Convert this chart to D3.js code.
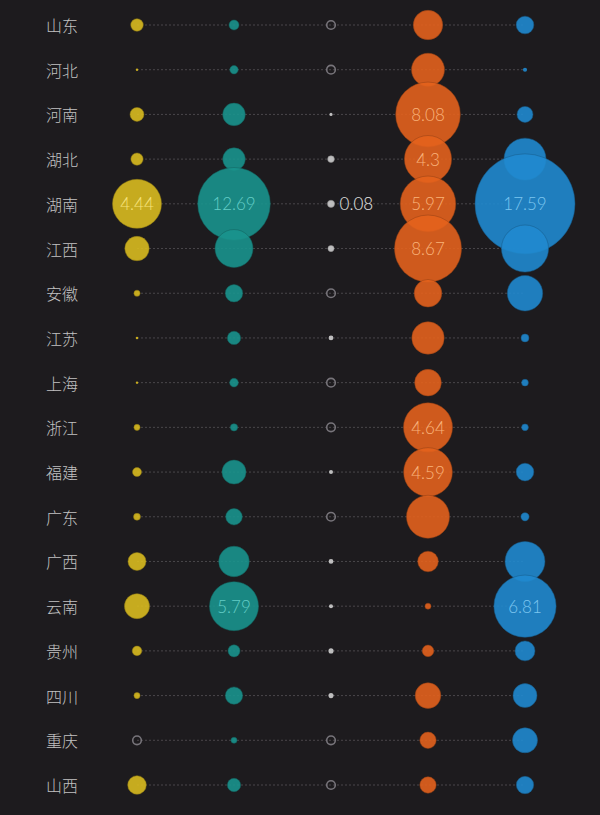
<!DOCTYPE html>
<html>
<head>
<meta charset="utf-8">
<script src="https://cdn.jsdelivr.net/npm/d3@7"></script>
<style>
  html, body { margin: 0; padding: 0; background: #1d1b1e; }
  svg { display: block; }
</style>
</head>
<body>
<svg id="chart" width="600" height="815"></svg>
<script>
const provinces = ["山东","河北","河南","湖北","湖南","江西","安徽","江苏","上海","浙江","福建","广东","广西","云南","贵州","四川","重庆","山西"];
const seriesNames = ["系列1","系列2","系列3","系列4","系列5"];
const seriesColors = ["#d9bb1f","#1a938d","#cfcfcf","#e3621d","#2089cf"];
const labelColors = ["#f6e27a","#63cdc6","#e6e6e6","#f9b37a","#7cc6f0"];

const series1 = [0.29,0.01,0.36,0.28,4.44,1.10,0.07,0.012,0.01,0.07,0.15,0.09,0.60,1.16,0.17,0.07,0,0.64];
const series2 = [0.24,0.17,1.23,1.23,12.69,3.48,0.73,0.43,0.18,0.13,1.39,0.66,2.25,5.79,0.35,0.73,0.09,0.43];
const series3 = [0,0,0.015,0.07,0.08,0.06,0,0.035,0,0,0.025,0,0.035,0.025,0.04,0.04,0,0];
const series4 = [1.67,2.1,8.08,4.3,5.97,8.67,1.47,2.03,1.37,4.64,4.59,3.57,0.82,0.07,0.26,1.27,0.52,0.52];
const series5 = [0.55,0.03,0.45,3.1,17.59,3.9,2.2,0.11,0.08,0.08,0.55,0.12,2.8,6.81,0.7,1.01,1.1,0.53];
const allSeries = [series1, series2, series3, series4, series5];
const maxRadius = [24.5, 36.3, 3.6, 33.5, 50];

const svg = d3.select("#chart");

const y = d3.scalePoint().domain(provinces).range([25, 785]);
const x = d3.scalePoint().domain(seriesNames).range([137, 525]);

const rScales = allSeries.map((s, i) =>
  d3.scaleSqrt().domain([0, d3.max(s)]).range([0, maxRadius[i]]));

// dotted row lines
svg.append("g").selectAll("line").data(provinces).join("line")
  .attr("x1", x(seriesNames[0])).attr("x2", x(seriesNames[4]))
  .attr("y1", d => y(d)).attr("y2", d => y(d))
  .attr("stroke", "#4a474b").attr("stroke-width", 1)
  .attr("stroke-dasharray", "2,2");

// province labels
svg.append("g").selectAll("text").data(provinces).join("text")
  .attr("x", 62).attr("y", d => y(d))
  .attr("text-anchor", "middle").attr("dominant-baseline", "central")
  .attr("font-family", "'Noto Sans CJK SC', sans-serif")
  .attr("font-weight", 300)
  .attr("font-size", 16).attr("fill", "#c2c2c2")
  .text(d => d);

// bubbles
seriesNames.forEach((name, si) => {
  const data = provinces.map((p, i) => ({ p, v: allSeries[si][i] }));
  const g = svg.append("g");
  const cx = x(name);
  const colMax = d3.max(allSeries[si]);
  data.forEach(d => {
    if (d.v === 0) {
      g.append("circle")
        .attr("cx", cx).attr("cy", y(d.p)).attr("r", 4.3)
        .attr("fill", "none").attr("stroke", "#77747a").attr("stroke-width", 1.6);
    } else {
      const r = Math.max(1.2, rScales[si](d.v));
      g.append("circle")
        .attr("cx", cx).attr("cy", y(d.p)).attr("r", r)
        .attr("fill", seriesColors[si]).attr("fill-opacity", 0.9)
        .attr("stroke", d3.color(seriesColors[si]).darker(1.2)).attr("stroke-opacity", 0.5)
        .attr("stroke-width", r > 3 ? 1 : 0);
    }
  });
  // value labels
  data.forEach(d => {
    if (d.v >= 4 || d.v === colMax) {
      const inside = rScales[si](d.v) > 15;
      g.append("text")
        .attr("x", inside ? cx : cx + rScales[si](d.v) + 5)
        .attr("y", y(d.p))
        .attr("text-anchor", inside ? "middle" : "start")
        .attr("dominant-baseline", "central")
        .attr("font-family", "Lato, 'Open Sans', sans-serif")
        .attr("font-weight", 300)
        .attr("font-size", 17)
        .attr("fill", labelColors[si])
        .text(d3.format("")(d.v));
    }
  });
});
</script>
</body>
</html>
